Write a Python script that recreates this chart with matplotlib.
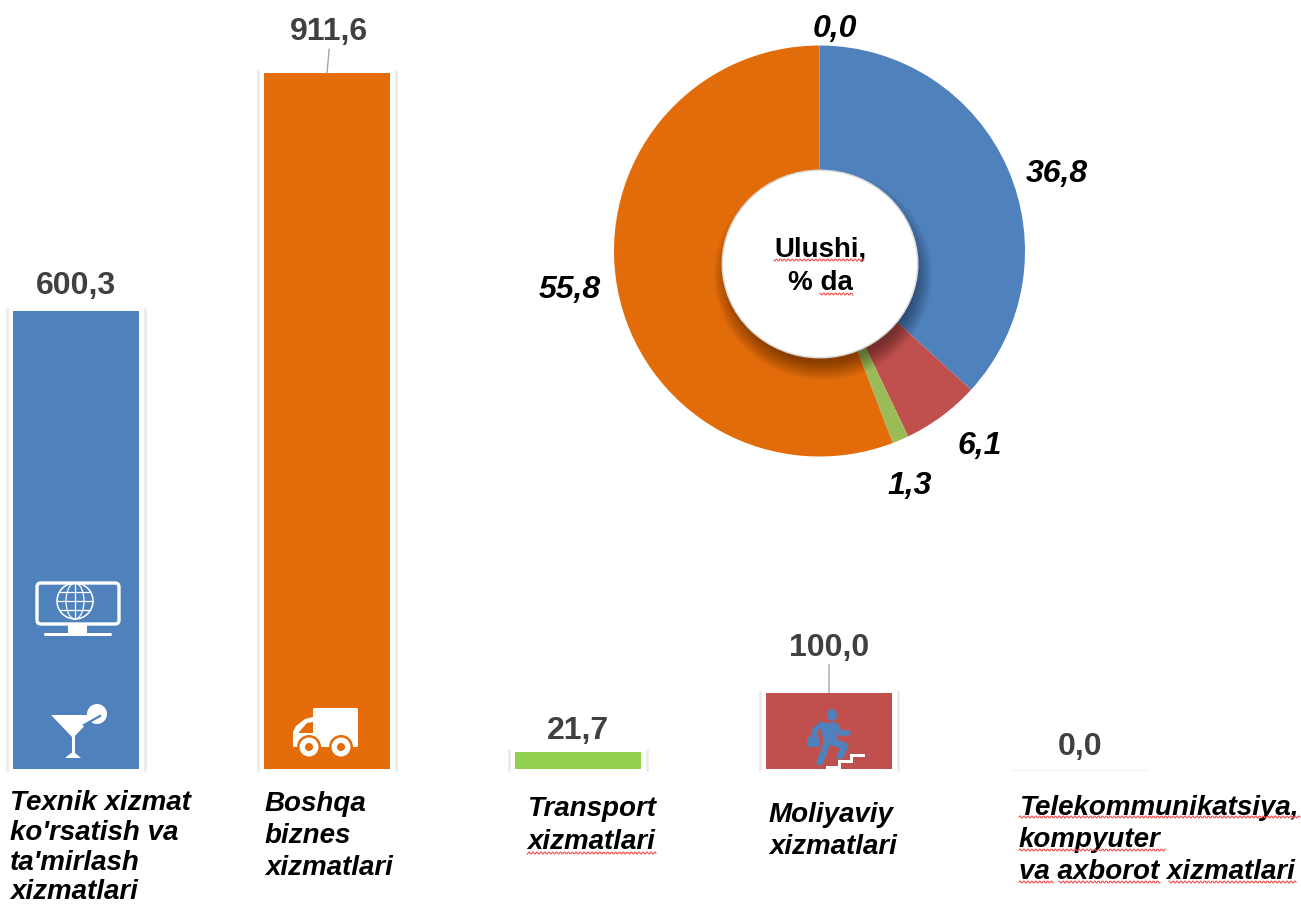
import numpy as np
import matplotlib
matplotlib.use("Agg")
import matplotlib.pyplot as plt
from matplotlib.patches import Circle, Rectangle, Polygon, FancyBboxPatch, Ellipse

W, H = 1301, 905
categories = ["Texnik xizmat\nko'rsatish va\nta'mirlash\nxizmatlari", "Boshqa\nbiznes\nxizmatlari",
              "Transport\nxizmatlari", "Moliyaviy\nxizmatlari",
              "Telekommunikatsiya,\nkompyuter\nva axborot xizmatlari"]
bar_values = [600.3, 911.6, 21.7, 100.0, 0.0]
bar_labels = ["600,3", "911,6", "21,7", "100,0", "0,0"]
bar_colors = ["#4F81BD", "#E46C0A", "#92D050", "#C0504D", "#FFFFFF"]
share_values = [36.8, 6.1, 1.3, 55.8, 0.0]
share_labels = ["36,8", "6,1", "1,3", "55,8", "0,0"]
share_colors = ["#4F81BD", "#C0504D", "#9BBB59", "#E36C0A", "#8064A2"]

plt.rcParams['font.family'] = ['Liberation Sans', 'DejaVu Sans']
fig = plt.figure(figsize=(W / 100, H / 100), dpi=100, facecolor="white")

# Bars: category axis spans the whole figure
ax = fig.add_axes([0, 0, 1, 1])
step, x0, base, scale = 251.0, 76.0, 769.0, 0.7635
ax.set_xlim(-x0 / step, (W - x0) / step)
ax.set_ylim(-(H - base) / scale, base / scale)
ax.axis("off")
xs = np.arange(len(bar_values))
halo = 0.275
for x, v in zip(xs, bar_values):
    if v > 0:
        ax.vlines([x - halo, x + halo], -2, v + 4, color="#EBEBEB", lw=2, zorder=1)
    else:
        ax.hlines(-1, x - halo, x + halo, color="#F4F4F4", lw=1, zorder=1)
ax.bar(xs, bar_values, width=0.502, color=bar_colors, zorder=2)

offsets = [(0, 25), (2, 41), (0, 21), (0, 45), (0, 22)]
for x, v, t, off in zip(xs, bar_values, bar_labels, offsets):
    ax.annotate(t, (x, v), xytext=off, textcoords="offset pixels", ha="center", va="center",
                fontsize=23, fontweight="bold", color="#404040", zorder=5)
ax.annotate("", (1, 911.6), xytext=(2.2, 24), textcoords="offset pixels",
            arrowprops=dict(arrowstyle="-", color="#A6A6A6", lw=1, shrinkA=0, shrinkB=0))
ax.annotate("", (3, 100.0), xytext=(0, 28), textcoords="offset pixels",
            arrowprops=dict(arrowstyle="-", color="#A6A6A6", lw=1, shrinkA=0, shrinkB=0))

# Donut
cx, cy, R = 819.5, 251.0, 205.5
pax = fig.add_axes([(cx - R) / W, 1 - (cy + R) / H, 2 * R / W, 2 * R / H])
pax.pie(share_values, colors=share_colors, startangle=90, counterclock=False, radius=1,
        wedgeprops=dict(edgecolor="none", linewidth=0))
pax.set_xlim(-1, 1)
pax.set_ylim(-1, 1)

# Overlay in pixel space: decorations and text
ov = fig.add_axes([0, 0, 1, 1], zorder=10)
ov.set_xlim(0, W)
ov.set_ylim(H, 0)
ov.axis("off")
ov.patch.set_alpha(0)

# Hole with soft shadow
hx, hy, hw, hh = 820.0, 264.0, 196.0, 188.0
for i in range(14):
    ov.add_patch(Ellipse((hx + 3, hy + 11), hw + 22 - i * 2.6, hh + 22 - i * 2.6, fc="black", ec="none", alpha=0.03))
ov.add_patch(Ellipse((hx, hy), hw + 1, hh + 1, fc="#D8D8D8", ec="none"))
ov.add_patch(Ellipse((hx, hy), hw - 2, hh - 2, fc="white", ec="none"))
ov.text(820, 249, "Ulushi,", ha="center", va="center", fontsize=20, fontweight="bold", color="black")
ov.text(820, 283, "% da", ha="center", va="center", fontsize=20, fontweight="bold", color="black")

# Share labels
share_pos = [(1057, 174), (980, 446), (910, 486), (570, 290), (835, 29)]
for t, (px, py) in zip(share_labels, share_pos):
    ov.text(px, py, t, ha="center", va="center", fontsize=23, fontweight="bold", style="italic", color="black")

# Category labels
line_pos = [(10, [803, 833, 863, 892]), (265, [804, 836, 868]), (527, [809, 842]),
            (769, [815, 847]), (1019, [808, 840, 872])]
for name, (px, ys) in zip(categories, line_pos):
    for line, py in zip(name.split("\n"), ys):
        ov.text(px, py, line, ha="left", va="center", fontsize=20, fontweight="bold",
                style="italic", color="black")

# Spell-check squiggles
def squiggle(a, b, y):
    xx = np.arange(a, b + 0.5, 1.0)
    ov.plot(xx, y + 1.1 * np.sin(xx * 1.6), color="#F05050", lw=0.8, zorder=6)
for a, b, y in [(774, 864, 260), (820, 853, 294), (527, 656, 853), (1019, 1300, 817),
                (1019, 1165, 850), (1019, 1053, 882), (1059, 1160, 882), (1169, 1296, 882)]:
    squiggle(a, b, y)

# Monitor icon
ov.add_patch(FancyBboxPatch((37, 583), 82, 41, boxstyle="round,pad=0,rounding_size=4", fc="none", ec="white", lw=2.4))
ov.add_patch(Rectangle((68, 625), 19, 9, fc="white", ec="none"))
ov.add_patch(FancyBboxPatch((44, 633), 68, 3, boxstyle="round,pad=0,rounding_size=1.5", fc="white", ec="none"))
ov.add_patch(Circle((75, 601), 18, fc="none", ec="white", lw=1.1))
ov.add_patch(Ellipse((75, 601), 18, 36, fc="none", ec="white", lw=0.9))
ov.plot([75, 75], [583, 619], color="white", lw=0.9)
ov.plot([57, 93], [601, 601], color="white", lw=0.9)
ov.plot([60, 90], [592, 592], color="white", lw=0.9)
ov.plot([60, 90], [610, 610], color="white", lw=0.9)

# Cocktail icon
ov.add_patch(Circle((97, 714), 10, fc="white", ec="none"))
ov.add_patch(Polygon([(51, 715), (95, 715), (73, 738)], fc="white", ec="none"))
ov.plot([84, 100], [725, 716], color="#4F81BD", lw=1.6)
ov.add_patch(Rectangle((71.5, 736), 3.5, 20, fc="white", ec="none"))
ov.add_patch(Polygon([(65, 758), (81, 758), (75, 753), (71, 753)], fc="white", ec="none"))

# Truck icon
ov.add_patch(FancyBboxPatch((313, 708), 45, 39, boxstyle="round,pad=0,rounding_size=1.5", fc="white", ec="none"))
ov.add_patch(Polygon([(313, 717), (305, 719), (296, 726), (293, 732), (293, 747), (313, 747)], fc="white", ec="none"))
ov.add_patch(Polygon([(313, 722), (307, 723), (299, 732), (299, 733), (313, 733)], fc="#E46C0A", ec="none"))
for wx in (309, 341):
    ov.add_patch(Circle((wx, 747), 12, fc="#E46C0A", ec="none"))
    ov.add_patch(Circle((wx, 747), 9.5, fc="white", ec="none"))
    ov.add_patch(Circle((wx, 747), 4, fc="#E46C0A", ec="none"))

# Runner icon
blue = "#4F81BD"
ov.add_patch(Ellipse((832, 715), 10, 12, fc=blue, ec="none"))
ov.add_patch(Polygon([(820, 724), (834, 722), (838, 742), (824, 744)], fc=blue, ec="none"))
ov.plot([822, 815, 814], [724, 730, 738], color=blue, lw=4, solid_capstyle="round")
ov.plot([835, 840, 848], [725, 733, 733], color=blue, lw=4, solid_capstyle="round")
ov.plot([827, 824, 820], [742, 752, 762], color=blue, lw=5, solid_capstyle="round")
ov.plot([832, 845, 840], [742, 746, 756], color=blue, lw=5, solid_capstyle="round")
ov.add_patch(FancyBboxPatch((807, 737), 12, 10, boxstyle="round,pad=0,rounding_size=1.5", fc=blue, ec="none"))
ov.add_patch(Polygon([(826, 769), (826, 766), (838, 766), (838, 760), (850, 760), (850, 754), (865, 754),
                      (865, 757), (853, 757), (853, 763), (841, 763), (841, 769)], fc="white", ec="none"))

fig.savefig("out.png", dpi=100, facecolor="white")
